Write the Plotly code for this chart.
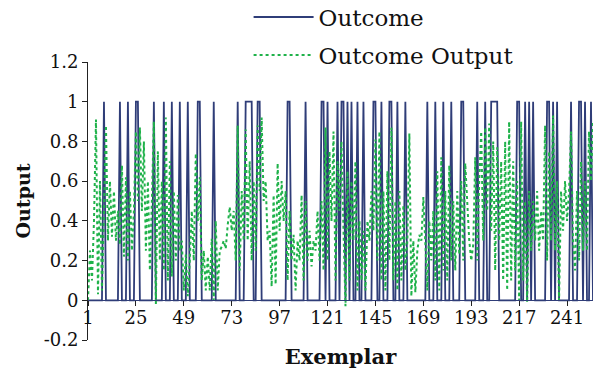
import plotly.graph_objects as go

n_points = 254
exemplar = list(range(1, n_points + 1))

# indices (exemplar numbers) where Outcome = 1
outcome_ones = [9, 17, 21, 25, 26, 34, 39, 43, 47, 51, 56, 57, 64, 76, 80, 81, 82, 83,
                86, 87, 101, 102, 110, 118, 119, 121, 126, 128, 129, 131, 133, 136, 139,
                144, 145, 148, 152, 153, 156, 160, 171, 175, 179, 183, 188, 189, 196, 200,
                203, 204, 205, 206, 216, 217, 220, 222, 224, 231, 232, 234, 236, 243, 247,
                248, 250, 253]
outcome = [1 if e in outcome_ones else 0 for e in exemplar]

outcome_output = [
    0.0, 0.25, 0.1, 0.4, 0.91, 0.03, 0.6, 0.05, 0.45, 0.88,
    0.3, 0.6, 0.32, 0.55, 0.3, 0.45, 0.28, 0.68, 0.22, 0.62,
    0.2, 0.55, 0.25, 0.45, 0.85, 0.5, 0.87, 0.45, 0.8, 0.25,
    0.6, 0.15, 0.5, 0.9, -0.02, 0.75, 0.2, 0.6, 0.15, 0.92,
    0.1, 0.7, 0.12, 0.55, 0.2, 0.53, 0.25, 0.3, 0.05, 0.23,
    0.02, 0.2, 0.45, 0.2, 0.74, 0.4, 0.62, 0.1, 0.25, 0.05,
    0.22, 0.05, 0.31, 0.0, 0.4, 0.05, 0.25, 0.27, 0.3, 0.26,
    0.38, 0.47, 0.35, 0.45, 0.2, 0.88, 0.15, 0.55, 0.3, 0.86,
    0.3, 0.7, 0.2, 0.6, 0.25, 0.88, 0.55, 0.92, 0.5, 0.6,
    0.3, 0.35, 0.07, 0.53, 0.08, 0.69, 0.35, 0.6, 0.4, 0.55,
    0.1, 0.45, 0.2, 0.33, 0.05, 0.3, 0.2, 0.53, 0.1, 0.5,
    0.2, 0.35, 0.17, 0.3, 0.25, 0.45, 0.2, 0.5, 0.15, 0.87,
    0.2, 0.75, 0.4, 0.85, 0.1, 0.7, 0.45, 0.8, 0.35, -0.03,
    0.65, 0.1, 0.6, 0.3, 0.7, 0.05, 0.4, 0.1, 0.35, 0.05,
    0.4, 0.3, 0.55, 0.35, 0.81, 0.2, 0.85, 0.1, 0.55, 0.05,
    0.65, 0.2, 0.87, 0.1, 0.5, 0.05, 0.55, 0.1, 0.48, 0.15,
    0.3, 0.84, 0.02, 0.3, 0.04, 0.25, 0.33, 0.3, 0.52, 0.25,
    0.05, 0.4, 0.2, 0.45, 0.1, 0.65, 0.05, 0.72, 0.15, 0.55,
    0.1, 0.68, 0.2, 0.5, 0.15, 0.55, 0.23, 0.6, 0.2, 0.69,
    0.45, 0.3, 0.2, 0.28, 0.72, 0.2, 0.6, 0.85, 0.3, 0.87,
    0.45, 0.89, 0.35, 0.8, 0.15, 0.77, 0.3, 0.7, 0.1, 0.8,
    0.05, 0.9, 0.1, 0.7, 0.15, 0.6, 0.0, 0.9, 0.1, 0.5,
    -0.01, 0.55, 0.25, 0.5, 0.3, 0.55, 0.25, 0.45, 0.3, 0.88,
    0.2, 0.75, 0.3, 0.93, 0.25, 0.6, 0.0, 0.55, 0.35, 0.6,
    0.4, 0.55, 0.85, 0.3, 0.15, 0.55, 0.2, 0.7, 0.25, 0.6,
    0.25, 0.85, 0.6, 0.9,
]

x_tickvals = [1, 25, 49, 73, 97, 121, 145, 169, 193, 217, 241]
y_tickvals = [-0.2, 0, 0.2, 0.4, 0.6, 0.8, 1, 1.2]
y_ticktext = ["-0.2", "0", "0.2", "0.4", "0.6", "0.8", "1", "1.2"]

FONT = "DejaVu Serif"
NAVY = "#2f3d78"
GREEN = "#1fb24a"

fig = go.Figure()
fig.add_trace(go.Scatter(x=exemplar, y=outcome, mode="lines", name="Outcome",
                         line=dict(color=NAVY, width=1.8), legendgroup="a"))
fig.add_trace(go.Scatter(x=exemplar, y=outcome_output, mode="lines", name="Outcome Output",
                         line=dict(color=GREEN, width=2, dash="dot"), legendgroup="b"))

y_range = [-0.2, 1.2]
zero_pos = (0 - y_range[0]) / (y_range[1] - y_range[0])

fig.update_layout(
    width=594, height=369,
    margin=dict(l=88, r=1, t=62, b=29, autoexpand=False),
    paper_bgcolor="white", plot_bgcolor="white",
    font=dict(family=FONT, color="#111111", size=18),
    showlegend=True,
    legend=dict(x=0.318, y=1.239, xanchor="left", yanchor="top",
                font=dict(family=FONT, size=23, color="#111111"),
                bgcolor="rgba(0,0,0,0)", tracegroupgap=5, itemwidth=60,
                traceorder="grouped"),
    xaxis=dict(range=[1, 254], tickvals=x_tickvals, ticks="outside", ticklen=5,
               tickcolor="#222", showline=True, linecolor="#2f3d78", linewidth=1,
               showgrid=False, zeroline=False, anchor="free", position=zero_pos,
               ticklabelstandoff=-4,
               tickfont=dict(family=FONT, size=18, color="#111"),
               title=dict(text="<b>Exemplar</b>", font=dict(family=FONT, size=21, color="#111"),
                          standoff=25)),
    yaxis=dict(range=y_range, tickvals=y_tickvals, ticktext=y_ticktext, ticks="outside",
               ticklen=5, tickcolor="#222", showline=True, linecolor="#222", linewidth=1,
               showgrid=False, zeroline=False,
               tickfont=dict(family=FONT, size=18, color="#111"),
               title=dict(text="<b>Output</b>", font=dict(family=FONT, size=19, color="#111"),
                          standoff=8)),
)

fig.write_html("out.html")
